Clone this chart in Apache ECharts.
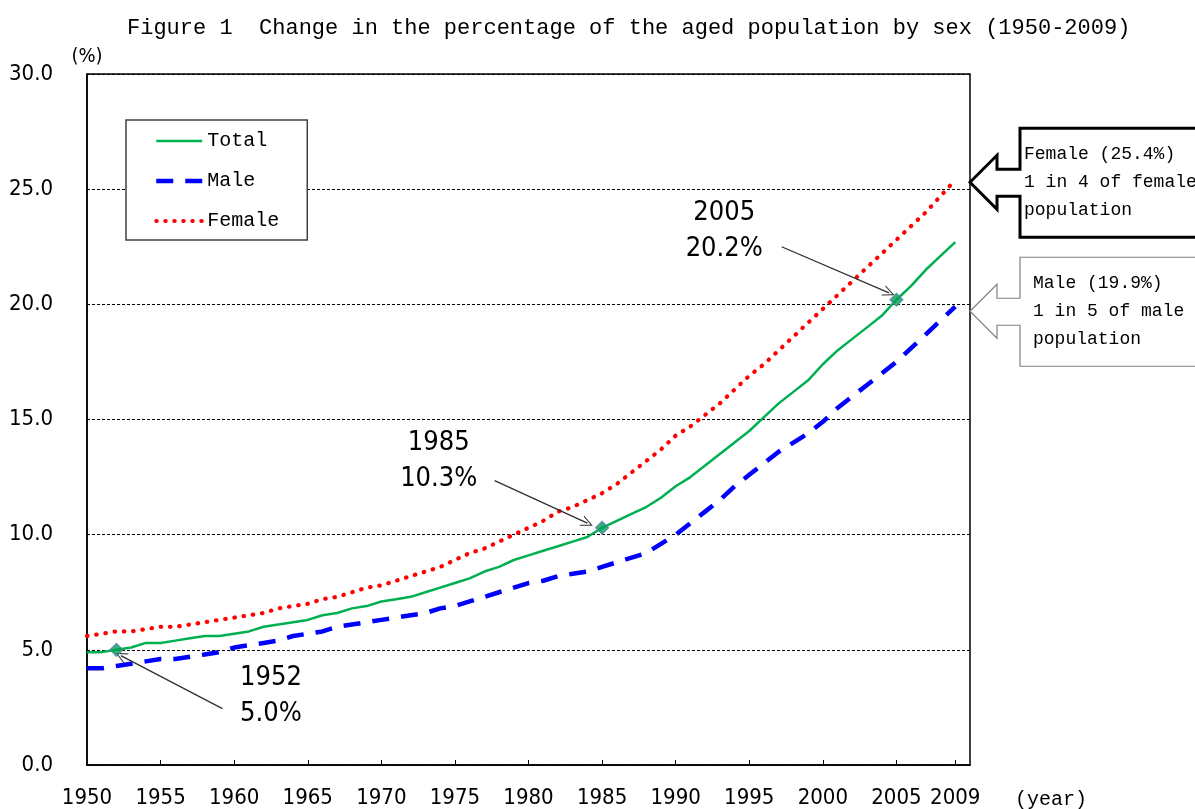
<!DOCTYPE html>
<html><head><meta charset="utf-8">
<script src="https://cdn.jsdelivr.net/npm/echarts@6/dist/echarts.min.js"></script>
<style>html,body{margin:0;padding:0;background:#fff}#c{width:1195px;height:809px}</style>
</head><body><div id="c"></div><script>
const years = [1950,1951,1952,1953,1954,1955,1956,1957,1958,1959,
  1960,1961,1962,1963,1964,1965,1966,1967,1968,1969,
  1970,1971,1972,1973,1974,1975,1976,1977,1978,1979,
  1980,1981,1982,1983,1984,1985,1986,1987,1988,1989,
  1990,1991,1992,1993,1994,1995,1996,1997,1998,1999,
  2000,2001,2002,2003,2004,2005,2006,2007,2008,2009];
const totalPct = [4.9,4.9,5.0,5.1,5.3,5.3,5.4,5.5,5.6,5.6,
  5.7,5.8,6.0,6.1,6.2,6.3,6.5,6.6,6.8,6.9,
  7.1,7.2,7.3,7.5,7.7,7.9,8.1,8.4,8.6,8.9,
  9.1,9.3,9.5,9.7,9.9,10.3,10.6,10.9,11.2,11.6,
  12.1,12.5,13.0,13.5,14.0,14.5,15.1,15.7,16.2,16.7,
  17.4,18.0,18.5,19.0,19.5,20.2,20.8,21.5,22.1,22.7];
const malePct = [4.2,4.2,4.3,4.4,4.5,4.6,4.6,4.7,4.8,4.9,
  5.1,5.2,5.3,5.4,5.6,5.7,5.8,6.0,6.1,6.2,
  6.3,6.4,6.5,6.6,6.8,6.9,7.1,7.3,7.5,7.7,
  7.9,8.0,8.2,8.3,8.4,8.6,8.8,9.0,9.2,9.6,
  10.0,10.5,11.0,11.5,12.1,12.6,13.1,13.6,14.0,14.4,
  14.9,15.5,16.0,16.5,17.0,17.5,18.1,18.7,19.3,19.9];
const femalePct = [5.6,5.7,5.8,5.8,5.9,6.0,6.0,6.1,6.2,6.3,
  6.4,6.5,6.6,6.8,6.9,7.0,7.2,7.3,7.5,7.7,
  7.8,8.0,8.2,8.4,8.6,8.9,9.2,9.4,9.7,10.0,
  10.3,10.6,11.0,11.2,11.5,11.8,12.2,12.7,13.2,13.7,
  14.3,14.7,15.2,15.7,16.3,16.9,17.4,18.0,18.6,19.2,
  19.8,20.4,21.0,21.6,22.2,22.8,23.4,24.0,24.7,25.4];
const xLabelYears = [1950,1955,1960,1965,1970,1975,1980,1985,1990,1995,2000,2005,2009];
const xTickYears = [1955,1960,1965,1970,1975,1980,1985,1990,1995,2000,2005,2009];
const highlightYears = [1952,1985,2005];
const highlightPct = [5.0,10.3,20.2];
const highlightText = ['1952\n5.0%','1985\n10.3%','2005\n20.2%'];
// annotation anchors (data coords): text centre, arrow start, arrow end
const annoText = [[1962.5,3.0],[1973.9,13.2],[1993.3,23.2]];
const arrowFrom = [[1959.2,2.45],[1977.7,12.35],[1997.2,22.5]];
const arrowTo = [[1952.3,4.75],[1984.0,10.5],[2004.5,20.5]];
const calloutFemale = ['Female (25.4%)','1 in 4 of female','population'];
const calloutMale = ['Male (19.9%)','1 in 5 of male','population'];
const femaleLast = 25.3, maleLast = 19.7;

const NARROW = '"Liberation Sans Narrow","DejaVu Sans Condensed","Liberation Sans",sans-serif';
const MONO = '"Liberation Mono","DejaVu Sans Mono",monospace';

const chart = echarts.init(document.getElementById('c'), null, {renderer:'canvas'});
const pair = arr => years.map((y,i)=>[y,arr[i]]);

const totalLine = {color:'#00B050', width:2.5};
const maleLine = {color:'#0000FF', width:4.5, type:[17,12], cap:'butt'};
const femaleLine = {color:'#FF0000', width:4.2, type:[0.5,8.8], cap:'round'};

const option = {
  animation:false,
  backgroundColor:'#fff',
  title:{
    text:'Figure 1  Change in the percentage of the aged population by sex (1950-2009)',
    left:122, top:12,
    textStyle:{fontFamily:MONO, fontSize:22, fontWeight:'normal', color:'#000'}
  },
  grid:{left:87, right:225, top:74, bottom:40, show:true, borderColor:'#000', borderWidth:1.5, backgroundColor:'transparent'},
  legend:{
    data:[
      {name:'Total', lineStyle:{width:2.5}},
      {name:'Male', lineStyle:{width:4.5, type:[17,12]}},
      {name:'Female', lineStyle:{width:4, type:[0.5,8.5], cap:'round'}}
    ],
    orient:'vertical', left:126, top:120,
    backgroundColor:'#fff', borderColor:'#404040', borderWidth:1.5, borderRadius:0,
    padding:[11,28,9,28], itemGap:20, itemWidth:46, itemHeight:14,
    itemStyle:{color:'rgba(0,0,0,0)', borderColor:'rgba(0,0,0,0)', borderWidth:0, opacity:0},
    textStyle:{fontFamily:MONO, fontSize:20, color:'#000', lineHeight:20},
    selectedMode:false
  },
  xAxis:{
    type:'value', min:1950, max:2010,
    axisLine:{show:true, lineStyle:{color:'#000', width:1.5}},
    axisTick:{show:true, inside:true, length:5, customValues:xTickYears, lineStyle:{color:'#000', width:1}},
    axisLabel:{customValues:xLabelYears, margin:22, fontFamily:NARROW, fontSize:22, color:'#000', formatter:v=>String(v)},
    splitLine:{show:false}
  },
  yAxis:{
    type:'value', min:0, max:30, interval:5,
    name:'(%)', nameLocation:'end', nameGap:7,
    nameTextStyle:{fontFamily:NARROW, fontSize:20, color:'#000'},
    axisLine:{show:true, lineStyle:{color:'#000', width:1.5}},
    axisTick:{show:false},
    axisLabel:{margin:34, fontFamily:NARROW, fontSize:22, color:'#000', formatter:v=>v.toFixed(1)},
    splitLine:{show:true, lineStyle:{color:'#000', width:1, type:[3,2]}}
  },
  series:[
    {name:'Total', type:'line', data:pair(totalPct), symbol:'none', z:4,
     lineStyle:totalLine, itemStyle:{color:'#00B050'}},
    {name:'Male', type:'line', data:pair(malePct), symbol:'none', z:3,
     lineStyle:maleLine, itemStyle:{color:'#0000FF'}},
    {name:'Female', type:'line', data:pair(femalePct), symbol:'none', z:3,
     lineStyle:femaleLine, itemStyle:{color:'#FF0000'}},
    {name:'points', type:'scatter', z:6,
     data:highlightYears.map((y,i)=>[y,highlightPct[i]]),
     symbol:'diamond', symbolSize:13,
     itemStyle:{color:'#00A050', borderColor:'#5B7FB5', borderWidth:1.2},
     markLine:{
       silent:true, symbol:['none','path://M5,0 L10,10 L9,10 L5,2 L1,10 L0,10 Z'], symbolSize:[11,12],
       label:{show:false},
       lineStyle:{color:'#303030', width:1.3, type:'solid'},
       data:arrowFrom.map((f,i)=>[{coord:f},{coord:arrowTo[i]}])
     },
     markPoint:{
       silent:true, symbol:'circle', symbolSize:1, itemStyle:{color:'rgba(0,0,0,0)'},
       label:{show:true, position:'inside', formatter:'{b}', fontFamily:NARROW, fontSize:27, lineHeight:36, color:'#000'},
       data:annoText.map((c,i)=>({coord:c, name:highlightText[i]}))
     }
    }
  ]
};
chart.setOption(option);

function callout(yVal, lines, strokeColor, strokeWidth, textX){
  const tip = chart.convertToPixel({gridIndex:0}, [2010, yVal]);
  const x0 = tip[0], y0 = tip[1];
  const pts = [[x0,y0],[x0+27,y0-27],[x0+27,y0-13],[x0+50,y0-13],[x0+50,y0-54],[x0+240,y0-54],
    [x0+240,y0+55],[x0+50,y0+55],[x0+50,y0+14],[x0+27,y0+14],[x0+27,y0+27]];
  const els = [{type:'polygon', shape:{points:pts}, style:{fill:'#fff', stroke:strokeColor, lineWidth:strokeWidth, lineJoin:'miter'}, z:10}];
  lines.forEach((t,i)=>{
    els.push({type:'text', z:11, style:{text:t, x:textX, y:y0-28+i*28, font:'18px '+MONO, fill:'#000', verticalAlign:'middle', align:'left'}});
  });
  return els;
}
const graphics = [].concat(
  callout(femaleLast, calloutFemale, '#000', 3, 1024),
  callout(maleLast, calloutMale, '#808080', 1.2, 1033),
  [{type:'text', z:11, style:{text:'(year)', x:1015, y:800, font:'20px '+MONO, fill:'#000', verticalAlign:'middle', align:'left'}}]
);
chart.setOption({graphic:graphics});
</script></body></html>
